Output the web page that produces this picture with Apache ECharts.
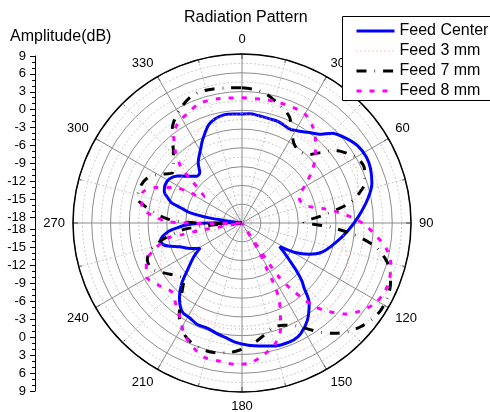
<!DOCTYPE html>
<html>
<head>
<meta charset="utf-8">
<script src="https://cdn.jsdelivr.net/npm/echarts@6/dist/echarts.min.js"></script>
<style>
  html, body { margin: 0; padding: 0; background: #fff; }
  #chart { width: 490px; height: 412px; }
</style>
</head>
<body>
<div id="chart"></div>
<script>
// angles in degrees (0 at top, clockwise), amplitude in dB
const centerAngles = [0, 4, 9, 15, 20, 27, 32, 36, 41, 45, 50, 56, 62, 67, 73, 79, 87, 94, 102, 110, 115, 119, 122, 125, 128, 131, 134, 136, 140, 146, 152, 156, 160, 164, 168, 172, 177, 183, 188, 193, 198, 204, 209, 213, 216, 220, 225, 229, 235, 239, 242, 246, 249, 254, 258, 263, 266, 268, 269.5, 270.5, 272, 276, 278, 279, 280, 282, 284, 286, 289, 292, 296, 301, 306, 310, 316, 320, 324, 331, 335, 342, 350, 356, 360]
const centerDb = [-0.6, -0.5, -0.66, -0.78, -0.8, -1.15, -0.7, -0.1, 0.8, 2.3, 3.3, 4.2, 4.5, 4.3, 3.7, 2.5, 0.6, -1.0, -2.75, -4.4, -6.2, -8.3, -10.9, -9.8, -8.4, -6.6, -4.7, -3.8, -1.3, 0.7, 2.0, 2.4, 2.45, 2.4, 2.1, 1.85, 1.55, 1.1, 0.5, 0.1, -0.3, -0.3, -0.7, -0.8, -1.3, -2.45, -4.4, -6.4, -8.6, -10.2, -9.3, -8.2, -7.4, -5.1, -4.7, -6.0, -7.8, -9.0, -11.3, -14.5, -18, -17, -15, -12.5, -11, -9.0, -7.9, -6.3, -5.4, -4.6, -4.3, -4.4, -5.2, -6.4, -7.6, -7.5, -6.1, -4.4, -3.2, -1.3, -0.5, -0.55, -0.6]

const f3Angles = [0, 20, 40, 55, 66, 78, 90, 102, 113, 120, 131, 139, 150, 165, 185, 206, 225, 240, 255, 265, 270, 275, 290, 305, 320, 340, 360]
const f3Db = [-0.5, -0.8, -1.0, 1.2, 2.2, 0.5, -2.0, -1.2, 0.5, 1.1, 1.4, 1.2, 0.0, -0.5, -1.0, -1.5, -4.0, -3.0, -5.0, -10, -14, -9, -5, -6, -4, -1, -0.5]

const f7Angles = [0, 6, 11, 17, 24, 29, 33, 38, 44, 48, 52, 57, 61, 66, 72, 76, 80, 85, 89, 92.5, 96, 100, 104, 108, 112, 117, 122, 126, 131, 135, 140, 144, 148, 152, 158, 163, 169, 175, 181, 187, 193, 198, 204, 209, 214, 218, 222, 226, 231, 237, 243, 249, 254, 258, 262, 264, 266, 267.5, 269, 271, 273, 276, 280, 283, 289, 295, 300, 306, 311, 317, 322, 326, 332, 338, 343, 348, 354, 360]
const f7Db = [3.6, 3.4, 2.9, 1.9, 0.6, -1.5, -2.8, -3.3, -2.8, -1.2, 0.85, 2.3, 3.2, 3.4, 2.6, 1.2, -0.9, -5.4, -8.1, -4.1, 0, 3.6, 5.6, 6.9, 7.6, 8.1, 8.2, 7.9, 7.2, 6.4, 5.0, 3.6, 2.0, 0.6, -0.4, -0.6, 0.3, 1.4, 2.3, 2.9, 3.2, 3.1, 2.6, 1.7, -0.1, -1.9, -3.8, -5.1, -4.6, -3.3, -1.8, -1.8, -3.0, -4.9, -7.5, -9, -13, -18, -14, -8.4, -6.2, -4.3, -2.2, -0.9, -0.7, -1.2, -2.5, -4.3, -3.5, -1.9, 0.2, 1.5, 2.8, 3.8, 4.0, 3.9, 3.7, 3.6]

const f8Angles = [0, 14, 28.5, 35.7, 41.7, 47.5, 53.4, 58.7, 66, 70, 76, 80, 83.7, 87.4, 90.8, 95.5, 100, 105, 110.6, 115.8, 121.3, 126.8, 131.4, 135.6, 139, 141, 143.6, 145.6, 146.3, 147.2, 148.6, 149.7, 151.7, 152.3, 154, 157, 160, 164.6, 170.4, 176.8, 183, 189, 195.3, 201.2, 207.6, 212, 219.4, 225.2, 233, 240.5, 248, 253, 258.5, 259, 260, 264, 268.5, 269.5, 270.2, 271.2, 274.3, 279, 287, 292.3, 296.9, 300.3, 302.3, 304.5, 307.5, 310.3, 312.9, 316.8, 322, 327, 335, 340.7, 350, 360]
const f8Db = [2.0, 2.1, 2.2, 1.2, -0.35, -2.1, -4.05, -6.1, -8.0, -8.0, -7.0, -4.75, -2.5, -0.2, 1.6, 3.56, 5.4, 6.6, 7.2, 7.3, 6.8, 5.5, 4.0, 1.8, -0.3, -2.5, -5.0, -7.6, -9.9, -18, -14.3, -12.1, -9.5, -7.1, -4.6, -2.3, 0, 2.0, 3.3, 4.4, 4.6, 4.35, 4.3, 3.4, 2.0, 0.4, -1.3, -2.3, -1.4, -0.5, -1.5, -3.3, -5.9, -8.3, -11, -18, -13.4, -10.8, -8.7, -6.1, -3.9, -1.8, -1.4, -3.1, -5.5, -7.9, -10.4, -10.6, -9.6, -7.2, -4.6, -2.5, -0.3, 0.9, 1.7, 2.3, 2.2, 2.0]

const seriesNames = ['Feed Center', 'Feed 3 mm', 'Feed 7 mm', 'Feed 8 mm']
const ampTicks = [-18, 9]

const font = 'Arial, "Liberation Sans", sans-serif'

function toPolar(angles, values) {
  return angles.map((a, i) => [values[i], a])
}

const chart = echarts.init(document.getElementById('chart'))

function lineSeries(name, angles, values, style) {
  return {
    name: name,
    type: 'line',
    coordinateSystem: 'polar',
    polarIndex: 0,
    symbol: 'none',
    smooth: 0.3,
    data: toPolar(angles, values),
    lineStyle: style,
    z: 5
  }
}

const axisBase = {
  type: 'value',
  min: ampTicks[0],
  max: ampTicks[1],
  interval: 3,
  position: 'left',
  axisLine: { show: false },
  axisTick: { show: true, length: 5, lineStyle: { color: '#000' } },
  minorTick: { show: true, splitNumber: 3, length: 3, lineStyle: { color: '#000' } },
  axisLabel: { fontSize: 13, color: '#000', margin: 9, fontFamily: font },
  splitLine: { show: false }
}

chart.setOption({
  animation: false,
  title: [
    { text: 'Radiation Pattern', left: 184, top: 10, padding: 0,
      textStyle: { fontSize: 16, fontWeight: 'normal', color: '#000', fontFamily: font } },
    { text: 'Amplitude(dB)', left: 10, top: 29, padding: 0,
      textStyle: { fontSize: 16, fontWeight: 'normal', color: '#000', fontFamily: font } }
  ],
  // legend frame runs off the right edge like the original
  graphic: [{
    type: 'rect',
    left: 342,
    top: 16,
    z: 20,
    shape: { width: 190, height: 84 },
    style: { fill: '#fff', stroke: '#000', lineWidth: 1 }
  }],
  legend: {
    orient: 'vertical',
    left: 342,
    top: 16,
    padding: [7, 0, 1, 13],
    itemWidth: 38,
    itemHeight: 16,
    itemGap: 4,
    z: 30,
    itemStyle: { opacity: 0 },
    lineStyle: { width: 'inherit' },
    textStyle: { fontSize: 16, color: '#000', fontFamily: font },
    data: seriesNames
  },
  polar: { center: [242, 223], radius: 169 },
  angleAxis: {
    type: 'value',
    min: 0,
    max: 360,
    interval: 30,
    startAngle: 90,
    clockwise: true,
    axisLine: { lineStyle: { color: '#000', width: 1.5 } },
    axisTick: { inside: true, length: 5, lineStyle: { color: '#000' } },
    minorTick: { show: true, splitNumber: 2, length: 3, lineStyle: { color: '#000' } },
    axisLabel: { fontSize: 13, color: '#000', margin: 8, fontFamily: font,
      formatter: v => (v === 360 ? '' : v) },
    splitLine: { lineStyle: { color: '#8c8c8c', width: 1 } },
    minorSplitLine: { show: true, lineStyle: { color: '#c8c8c8', type: [2, 2] } }
  },
  radiusAxis: {
    type: 'value',
    min: ampTicks[0],
    max: ampTicks[1],
    interval: 3,
    axisLine: { show: false },
    axisTick: { show: false },
    axisLabel: { show: false },
    minorTick: { show: false, splitNumber: 2 },
    splitLine: { lineStyle: { color: '#8c8c8c', width: 1 } },
    minorSplitLine: { show: true, lineStyle: { color: '#c8c8c8', type: [2, 2] } }
  },
  // left amplitude scale: upper half, lower half (mirrored), plus the spine
  grid: [
    { left: 35, top: 56, width: 10, height: 161, show: false },
    { left: 35, top: 229, width: 10, height: 162, show: false },
    { left: 35, top: 56, width: 10, height: 335, show: false }
  ],
  xAxis: [
    { gridIndex: 0, type: 'value', show: false },
    { gridIndex: 1, type: 'value', show: false },
    { gridIndex: 2, type: 'value', show: false }
  ],
  yAxis: [
    Object.assign({ gridIndex: 0 }, axisBase),
    Object.assign({ gridIndex: 1, inverse: true }, axisBase),
    { gridIndex: 2, type: 'value', position: 'left', min: 0, max: 1,
      axisLine: { show: true, lineStyle: { color: '#000', width: 1 } },
      axisTick: { show: false }, axisLabel: { show: false }, splitLine: { show: false } }
  ],
  series: [
    lineSeries(seriesNames[0], centerAngles, centerDb, { color: '#0000ff', width: 3 }),
    lineSeries(seriesNames[1], f3Angles, f3Db, { color: '#ff8c8c', width: 1, type: [1, 3] }),
    lineSeries(seriesNames[2], f7Angles, f7Db, { color: '#000000', width: 3, type: [10, 8, 0.6, 8] }),
    lineSeries(seriesNames[3], f8Angles, f8Db, { color: '#ff00ff', width: 3, type: [5, 8] })
  ]
})
</script>
</body>
</html>
